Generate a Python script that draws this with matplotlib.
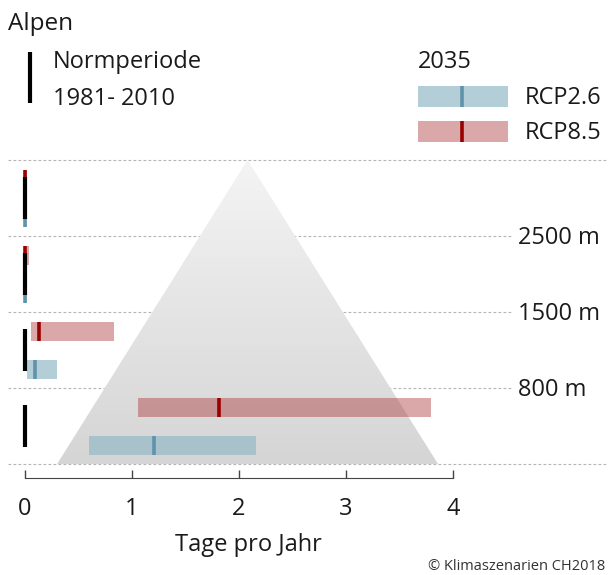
import numpy as np
import matplotlib.pyplot as plt
from matplotlib.patches import Polygon
from matplotlib.colors import LinearSegmentedColormap

plt.rcParams['font.family'] = ['Open Sans', 'DejaVu Sans']

# daten (unten -> oben)
stufen = ['800 m', '1500 m', '2500 m']
normperiode = [0.0, 0.0, 0.0, 0.0]
rcp26_lo = [0.60, 0.02, 0.0, 0.0]
rcp26_hi = [2.16, 0.30, 0.02, 0.02]
rcp26_med = [1.21, 0.09, 0.0, 0.0]
rcp85_lo = [1.06, 0.06, 0.0, 0.0]
rcp85_hi = [3.79, 0.83, 0.04, 0.02]
rcp85_med = [1.81, 0.13, 0.0, 0.0]
xticks = [0, 1, 2, 3, 4]

W, H = 608, 575
FS = 17
fig = plt.figure(figsize=(W / 100, H / 100), dpi=100)

# hauptachse: 0 bei px 25, 107 px pro tag; baender 76 px hoch
ax = fig.add_axes([0, (H - 478) / H, 1, 328 / H])
ax.set_xlim(-25 / 107, (W - 25) / 107)
ax.set_ylim(-14 / 76, 314 / 76)
ax.patch.set_alpha(0)

# pyramide mit verlauf
tri = Polygon([[0.30, 0], [2.08, 4], [3.86, 0]], closed=True, facecolor='none', edgecolor='none')
ax.add_patch(tri)
cmap = LinearSegmentedColormap.from_list('g', ['#d5d5d5', '#f4f4f4'])
grad = np.linspace(0, 1, 256).reshape(-1, 1)
im = ax.imshow(grad, cmap=cmap, origin='lower', extent=[0.30, 3.86, 0, 4], aspect='auto', zorder=1)
im.set_clip_path(tri)

# gestrichelte linien
for yy in range(5):
    xe = 5.45 if yy in (0, 4) else 4.56
    ax.hlines(yy, -0.16, xe, colors='#b5b5b5', linestyles=(0, (2.5, 2)), lw=0.8, zorder=0)

n = len(normperiode)
y = np.arange(n)
h = 0.25
y85 = y + 0.743
y26 = y + 0.243
ax.barh(y85, np.array(rcp85_hi) - np.array(rcp85_lo), left=rcp85_lo, height=h,
        color=(175 / 255, 62 / 255, 66 / 255), alpha=0.45, lw=0, zorder=2)
ax.barh(y26, np.array(rcp26_hi) - np.array(rcp26_lo), left=rcp26_lo, height=h,
        color=(148 / 255, 186 / 255, 199 / 255), alpha=0.7, lw=0, zorder=2)
ax.vlines(rcp85_med, y85 - h / 2, y85 + h / 2, colors='#990000', lw=2.6, zorder=3)
ax.vlines(rcp26_med, y26 - h / 2, y26 + h / 2, colors='#5f93ab', lw=2.6, zorder=3)
ax.vlines(normperiode, y + 0.22, y + 0.78, colors='black', lw=3, zorder=4)

# hoehenstufen
for i, s in enumerate(stufen):
    ax.text(4.61, i + 1 - 2 / 76, s, ha='left', va='center', fontsize=FS, color='#1a1a1a')

# x-achse
for s in ['top', 'left', 'right']:
    ax.spines[s].set_visible(False)
ax.spines['bottom'].set_bounds(0, 4)
ax.spines['bottom'].set_color('#444444')
ax.set_yticks([])
ax.set_xticks(xticks)
ax.tick_params(axis='x', direction='in', length=6, width=1, color='#444444',
               labelsize=FS, pad=14, labelcolor='#1a1a1a')
ax.set_xlabel('Tage pro Jahr', fontsize=FS, color='#1a1a1a')
ax.xaxis.set_label_coords(248 / W, -55 / 328)

# legende / kopf (pixelkoordinaten)
lg = fig.add_axes([0, 0, 1, 1])
lg.set_xlim(0, W)
lg.set_ylim(H, 0)
lg.axis('off')
lg.patch.set_alpha(0)
lg.text(8, 24, 'Alpen', fontsize=17.5, va='center', ha='left', color='#1a1a1a')
lg.vlines(30, 52, 103, colors='black', lw=3)
lg.text(53, 62, 'Normperiode', fontsize=FS, va='center', ha='left', color='#1a1a1a')
lg.text(53, 99, '1981- 2010', fontsize=FS, va='center', ha='left', color='#1a1a1a')
lg.text(418, 62, '2035', fontsize=FS, va='center', ha='left', color='#1a1a1a')
lg.barh(96, 90, left=418, height=21, color=(148 / 255, 186 / 255, 199 / 255), alpha=0.7, lw=0)
lg.vlines(462, 86, 107, colors='#5f93ab', lw=2.6)
lg.text(525, 98, 'RCP2.6', fontsize=FS, va='center', ha='left', color='#1a1a1a')
lg.barh(131, 90, left=418, height=21, color=(175 / 255, 62 / 255, 66 / 255), alpha=0.45, lw=0)
lg.vlines(462, 121, 142, colors='#990000', lw=2.6)
lg.text(525, 133, 'RCP8.5', fontsize=FS, va='center', ha='left', color='#1a1a1a')
lg.text(605, 566, '\u00a9 Klimaszenarien CH2018', fontsize=10.5, va='center', ha='right', color='#333333')

fig.savefig('out.png', dpi=100)
